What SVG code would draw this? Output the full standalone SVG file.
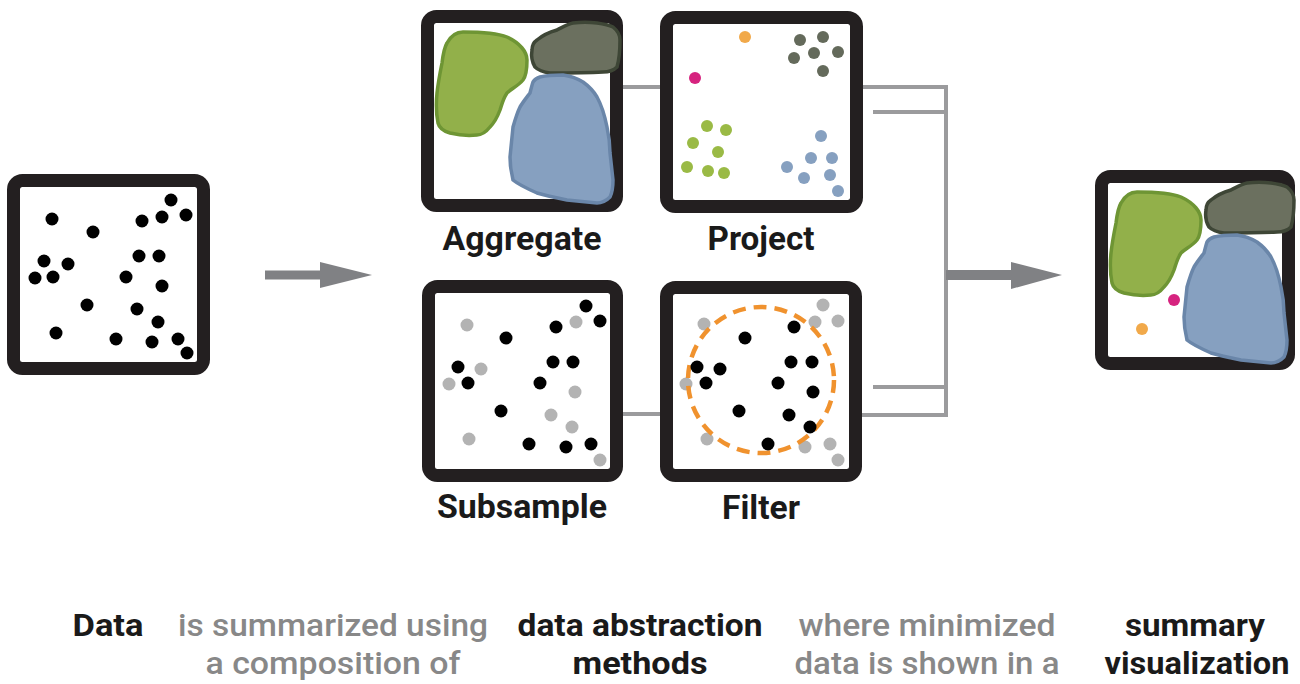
<svg xmlns="http://www.w3.org/2000/svg" xmlns:xlink="http://www.w3.org/1999/xlink" width="1300" height="684" viewBox="0 0 1300 684">
<style>
.box{fill:#fff;stroke:#231f20;stroke-width:13}
.k{fill:#000}
.g{fill:#b3b3b3}
.conn{stroke:#9b9b9d;stroke-width:4;fill:none}
.arr{fill:#808184}
.lbl{font-family:Roboto,"Liberation Sans",sans-serif;font-weight:bold;font-size:33px;fill:#1a1a1a;text-anchor:middle}
.cap{font-family:Roboto,"Liberation Sans",sans-serif;font-size:32px;text-anchor:middle}
.cb{font-weight:bold;fill:#1a1a1a}
.cg{font-weight:500;fill:#888888}
</style>
<defs>
<g id="blobs">
<path d="M447,43 C452,34 458,32 463,32 C480,32 497,33 507,37 C520,43 527,52 527,60 C527,70 526,76 523,80 C518,86 511,89 507,93 C503,99 502,104 500,110 C497,118 494,123 490,127 C486,132 482,135 477,135 C468,136 458,135 450,133 C443,131 439,127 438,123 C436,113 436,103 437,93 C438,83 440,73 442,63 C443,55 444,48 447,43 Z" fill="#92b04a" stroke="#6e9534" stroke-width="3.5"/>
<path d="M532,50 C532,45 534,42 537,40 C543,35 550,32 557,30 C563,27 568,24 573,23 C581,22 589,22 597,23 C604,24 609,25 613,27 C618,31 620,35 620,40 C620,50 619,60 617,67 C613,71 608,72 603,72 C585,73 567,73 550,73 C543,72 538,70 535,67 C532,62 531,56 532,50 Z" fill="#6b705f" stroke="#3e4636" stroke-width="3.5"/>
<path d="M540,77 C548,75 556,75 563,75 C571,76 578,79 583,82 C590,87 594,92 597,97 C602,106 605,117 607,127 C609,136 610,145 610,153 C611,162 612,171 613,180 C613,187 612,193 610,197 C606,201 602,203 597,203 C587,202 577,201 567,200 C557,198 547,196 537,193 C528,189 519,185 513,180 C511,172 510,164 510,157 C511,147 512,137 513,127 C515,120 517,113 520,107 C523,102 527,97 530,93 C531,89 532,85 533,82 C535,79 537,78 540,77 Z" fill="#86a0c0" stroke="#6a86a9" stroke-width="3.5"/>
</g>
</defs>

<g id="connectors">
<rect x="265" y="270.5" width="60" height="9" class="arr"/>
<polygon points="320,262 372,275 320,288" class="arr"/>
<line x1="623" y1="87" x2="660" y2="87" class="conn"/>
<line x1="623" y1="414" x2="660" y2="414" class="conn"/>
<polyline points="863,87 946,87 946,415 862,415" class="conn"/>
<line x1="873" y1="112" x2="946" y2="112" class="conn"/>
<line x1="873" y1="387" x2="946" y2="387" class="conn"/>
<rect x="946" y="270" width="68" height="10" class="arr"/>
<polygon points="1011,262 1062,275 1011,289" class="arr"/>
</g>

<g id="data">
<rect x="13.5" y="180.5" width="190" height="188" rx="9" class="box"/>
<g class="k">
<circle cx="52" cy="219" r="6.5"/><circle cx="93" cy="232" r="6.5"/><circle cx="171" cy="200" r="6.5"/><circle cx="162" cy="217" r="6.5"/><circle cx="186" cy="215" r="6.5"/><circle cx="142" cy="221" r="6.5"/><circle cx="44" cy="261" r="6.5"/><circle cx="68" cy="264" r="6.5"/><circle cx="35" cy="278" r="6.5"/><circle cx="53" cy="277" r="6.5"/><circle cx="139" cy="256" r="6.5"/><circle cx="159" cy="256" r="6.5"/><circle cx="126" cy="277" r="6.5"/><circle cx="162" cy="286" r="6.5"/><circle cx="87" cy="305" r="6.5"/><circle cx="137" cy="309" r="6.5"/><circle cx="158" cy="322" r="6.5"/><circle cx="56" cy="333" r="6.5"/><circle cx="116" cy="339" r="6.5"/><circle cx="152" cy="342" r="6.5"/><circle cx="178" cy="339" r="6.5"/><circle cx="187" cy="353" r="6.5"/>
</g>
</g>

<g id="aggregate">
<rect x="427.5" y="16.5" width="189" height="189" rx="9" class="box"/>
<use xlink:href="#blobs"/>
<text x="522" y="250" class="lbl" textLength="159" lengthAdjust="spacingAndGlyphs">Aggregate</text>
</g>

<g id="project">
<rect x="666.5" y="17.5" width="190" height="189" rx="9" class="box"/>
<circle cx="745" cy="37" r="6" fill="#f1a94a"/>
<circle cx="695" cy="78" r="6" fill="#d6237f"/>
<g fill="#646a5b">
<circle cx="800" cy="40" r="6"/><circle cx="823" cy="37" r="6"/><circle cx="838" cy="52" r="6"/><circle cx="814" cy="53" r="6"/><circle cx="794" cy="58" r="6"/><circle cx="823" cy="71" r="6"/>
</g>
<g fill="#9aba45">
<circle cx="707" cy="126" r="6"/><circle cx="726" cy="130" r="6"/><circle cx="693" cy="143" r="6"/><circle cx="718" cy="152" r="6"/><circle cx="687" cy="167" r="6"/><circle cx="708" cy="171" r="6"/><circle cx="724" cy="173" r="6"/>
</g>
<g fill="#86a0c0">
<circle cx="821" cy="136" r="6"/><circle cx="811" cy="158" r="6"/><circle cx="832" cy="158" r="6"/><circle cx="787" cy="167" r="6"/><circle cx="804" cy="178" r="6"/><circle cx="830" cy="175" r="6"/><circle cx="838" cy="191" r="6"/>
</g>
<text x="761" y="250" class="lbl" textLength="107" lengthAdjust="spacingAndGlyphs">Project</text>
</g>

<g id="subsample">
<rect x="428.5" y="286.5" width="188" height="189" rx="9" class="box"/>
<g class="g">
<circle cx="467" cy="325" r="6.5"/><circle cx="576" cy="322" r="6.5"/><circle cx="481" cy="369" r="6.5"/><circle cx="449" cy="384" r="6.5"/><circle cx="575" cy="392" r="6.5"/><circle cx="551" cy="415" r="6.5"/><circle cx="572" cy="427" r="6.5"/><circle cx="469" cy="439" r="6.5"/><circle cx="600" cy="460" r="6.5"/>
</g>
<g class="k">
<circle cx="586" cy="306" r="6.5"/><circle cx="600" cy="321" r="6.5"/><circle cx="556" cy="327" r="6.5"/><circle cx="506" cy="338" r="6.5"/><circle cx="458" cy="367" r="6.5"/><circle cx="468" cy="383" r="6.5"/><circle cx="553" cy="362" r="6.5"/><circle cx="573" cy="362" r="6.5"/><circle cx="540" cy="383" r="6.5"/><circle cx="501" cy="411" r="6.5"/><circle cx="529" cy="444" r="6.5"/><circle cx="566" cy="447" r="6.5"/><circle cx="591" cy="444" r="6.5"/>
</g>
<text x="522" y="518" class="lbl" textLength="170" lengthAdjust="spacingAndGlyphs">Subsample</text>
</g>

<g id="filter">
<rect x="666.5" y="287.5" width="189" height="188" rx="9" class="box"/>
<g class="g">
<circle cx="823" cy="305" r="6.5"/><circle cx="838" cy="321" r="6.5"/><circle cx="815" cy="322" r="6.5"/><circle cx="704" cy="324" r="6.5"/><circle cx="686" cy="384" r="6.5"/><circle cx="707" cy="439" r="6.5"/><circle cx="805" cy="447" r="6.5"/><circle cx="830" cy="444" r="6.5"/><circle cx="838" cy="460" r="6.5"/>
</g>
<circle cx="761" cy="380" r="73" fill="none" stroke="#f0922e" stroke-width="4.5" stroke-dasharray="13 8"/>
<g class="k">
<circle cx="794" cy="327" r="6.5"/><circle cx="745" cy="338" r="6.5"/><circle cx="697" cy="367" r="6.5"/><circle cx="720" cy="369" r="6.5"/><circle cx="706" cy="383" r="6.5"/><circle cx="791" cy="362" r="6.5"/><circle cx="812" cy="362" r="6.5"/><circle cx="778" cy="383" r="6.5"/><circle cx="813" cy="392" r="6.5"/><circle cx="739" cy="411" r="6.5"/><circle cx="789" cy="415" r="6.5"/><circle cx="810" cy="427" r="6.5"/><circle cx="768" cy="444" r="6.5"/>
</g>
<text x="761" y="519" class="lbl" textLength="78" lengthAdjust="spacingAndGlyphs">Filter</text>
</g>

<g id="summary">
<rect x="1101.5" y="176.5" width="187" height="187" rx="9" class="box"/>
<use xlink:href="#blobs" transform="translate(674,160)"/>
<circle cx="1174" cy="300" r="6" fill="#d6237f"/>
<circle cx="1142" cy="329" r="6" fill="#f1a94a"/>
</g>

<g id="captions" class="cap">
<text x="108" y="636" class="cb" textLength="71" lengthAdjust="spacingAndGlyphs">Data</text>
<text x="333" y="636" class="cg" textLength="310" lengthAdjust="spacingAndGlyphs">is summarized using</text>
<text x="333" y="674" class="cg" textLength="255" lengthAdjust="spacingAndGlyphs">a composition of</text>
<text x="640" y="636" class="cb" textLength="245" lengthAdjust="spacingAndGlyphs">data abstraction</text>
<text x="640" y="674" class="cb" textLength="135" lengthAdjust="spacingAndGlyphs">methods</text>
<text x="927" y="636" class="cg" textLength="257" lengthAdjust="spacingAndGlyphs">where minimized</text>
<text x="927" y="674" class="cg" textLength="265" lengthAdjust="spacingAndGlyphs">data is shown in a</text>
<text x="1195" y="636" class="cb" textLength="140" lengthAdjust="spacingAndGlyphs">summary</text>
<text x="1197" y="674" class="cb" textLength="185" lengthAdjust="spacingAndGlyphs">visualization</text>
</g>
</svg>
